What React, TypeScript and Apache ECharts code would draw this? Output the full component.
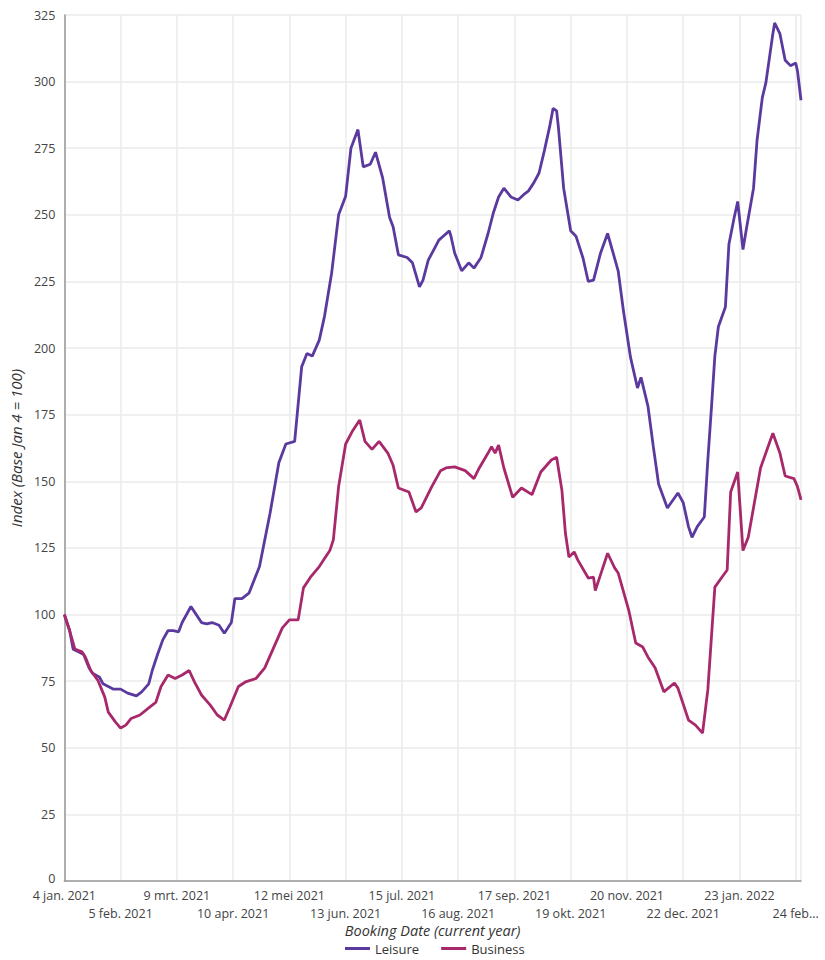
import React, { useEffect, useRef } from "react";
import * as echarts from "echarts";

const startDate = [2021, 0, 4];
const monthNames = ["jan.", "feb.", "mrt.", "apr.", "mei", "jun.", "jul.", "aug.", "sep.", "okt.", "nov.", "dec."];
const tickStep = 32;
const lastDay = 419;

const leisureDays = [0, 3, 5, 8, 11, 14, 16, 20, 22, 25, 28, 32, 36, 41, 44, 48, 50, 53, 56, 59, 62, 65, 67, 72, 74, 78, 81, 84, 88, 91, 95, 97, 101, 105, 111, 117, 122, 126, 131, 135, 138, 141, 145, 148, 152, 156, 160, 163, 167, 170, 174, 177, 181, 185, 187, 190, 195, 198, 202, 204, 207, 211, 213, 215, 219, 220, 222, 226, 230, 233, 237, 241, 244, 247, 250, 254, 258, 262, 264, 267, 270, 273, 276, 278, 280, 281, 284, 288, 291, 295, 298, 301, 305, 309, 315, 318, 322, 326, 328, 332, 335, 338, 343, 349, 352, 355, 357, 360, 364, 366, 368, 370, 372, 376, 378, 381, 383, 386, 388, 392, 394, 397, 399, 403, 404, 407, 410, 413, 416, 417, 419];
const leisureValues = [100, 94, 87, 86, 85, 80, 78, 76.5, 74, 73, 72, 72, 70.5, 69.5, 71, 74, 79, 85, 90.5, 94, 94, 93.5, 97, 103, 101, 97, 96.5, 97, 96, 93, 97, 106, 106, 108, 118, 138, 157, 164, 165, 193, 198, 197, 203, 212, 228, 250, 257, 275, 282, 268, 269, 273.5, 264, 249, 245.5, 235, 234, 232, 223, 225.5, 233, 238, 240.5, 241.7, 244, 241.7, 235.7, 229, 232, 230, 234, 243, 250.7, 256.7, 260, 256.7, 255.6, 258, 259, 262, 265.7, 274, 283, 290, 289, 283, 260, 244, 242, 233.8, 225, 225.5, 235.7, 243, 229, 214, 196.6, 185, 189, 178, 163, 149, 140, 145.6, 142, 133, 129, 133, 136.6, 158, 177, 197, 208, 215.4, 239, 249, 255, 237, 245, 260, 278, 294, 299.5, 318, 322, 318, 308, 306, 307, 304, 293];

const businessDays = [0, 3, 6, 10, 12, 15, 19, 23, 25, 29, 32, 35, 38, 43, 48, 52, 55, 59, 63, 67, 71, 74, 78, 83, 87, 91, 94, 99, 103, 109, 114, 120, 124, 128, 133, 136, 140, 145, 151, 153, 156, 160, 164, 168, 171, 175, 179, 184, 187, 190, 196, 200, 203, 209, 214, 217, 222, 228, 233, 236, 241, 243, 245, 247, 250, 255, 260, 266, 271, 277, 280, 283, 285, 287, 290, 292, 298, 301, 302, 305, 309, 313, 315, 321, 325, 329, 332, 336, 341, 347, 349, 355, 359, 363, 366, 370, 374, 377, 379, 383, 386, 389, 396, 400, 403, 407, 410, 415, 417, 419];
const businessValues = [100, 94, 87, 86, 84, 79, 75.4, 69, 63.4, 59.7, 57.4, 58.5, 61, 62.3, 65, 67, 73, 77.3, 76, 77.3, 79, 74.7, 69.8, 66, 62.3, 60.4, 65, 73, 74.7, 76, 80, 89, 95, 98, 98, 110, 114, 118, 124, 128, 148, 164, 169, 173, 165, 162, 165, 160.6, 156, 147.5, 146, 138.5, 140, 148, 154, 155, 155.4, 154, 151, 155, 160.6, 163, 160.6, 163.6, 155, 144, 147.5, 145, 153.5, 158, 159, 146.7, 130.6, 121.6, 123.5, 120.5, 113.7, 114, 109, 115, 123, 117.5, 115.6, 101.7, 89.3, 87.8, 84, 80, 71, 74.3, 72.4, 60.4, 58.5, 55.5, 71.7, 110.3, 114, 116.7, 146, 153.5, 124, 129, 155, 162.5, 168, 160.6, 152, 151, 148, 143];

const yMax = 325;
const yStep = 25;

const fontFamily = "'Open Sans', Lato, sans-serif";

function dayLabel(value: number): string {
  const d = new Date(Date.UTC(startDate[0], startDate[1], startDate[2] + value));
  return `${d.getUTCDate()} ${monthNames[d.getUTCMonth()]} ${d.getUTCFullYear()}`;
}

export default function App() {
  const ref = useRef<HTMLDivElement>(null);
  useEffect(() => {
    if (!ref.current) return;
    const chart = echarts.init(ref.current, null, { renderer: "svg" });
    const lastTick = Math.floor(lastDay / tickStep) * tickStep;
    const rowFormatter = (row: number) => (value: number) => {
      if (value % tickStep !== 0) return "";
      if ((value / tickStep) % 2 !== row) return "";
      let label = dayLabel(value);
      if (value === lastTick) label = label.slice(0, label.indexOf(".")) + "...";
      return label;
    };
    const baseLabel = {
      showMaxLabel: false,
      hideOverlap: false,
      fontFamily,
      fontSize: 12.5,
      lineHeight: 13,
      color: "#444",
    };
    chart.setOption({
      animation: false,
      textStyle: { fontFamily },
      grid: { left: 61, right: 24, top: 15, bottom: 79, containLabel: false },
      legend: {
        bottom: 0,
        left: 340,
        icon: "rect",
        itemWidth: 25,
        itemHeight: 3,
        itemGap: 22,
        textStyle: { fontFamily, fontSize: 13, color: "#333" },
        data: ["Leisure", "Business"],
      },
      xAxis: [
        {
          type: "value",
          min: 0,
          max: lastDay,
          interval: tickStep,
          name: "Booking Date (current year)",
          nameLocation: "middle",
          nameGap: 42,
          nameTextStyle: { fontFamily, fontStyle: "italic", fontSize: 14.5, color: "#333" },
          axisLine: { show: true, lineStyle: { color: "#999", width: 1.5 } },
          axisTick: { show: false },
          splitLine: { show: true, lineStyle: { color: "#ebebeb", width: 1.5 } },
          axisLabel: { ...baseLabel, margin: 8, formatter: rowFormatter(0) },
        },
        {
          type: "value",
          position: "bottom",
          min: 0,
          max: lastDay,
          interval: tickStep,
          axisLine: { show: false },
          axisTick: { show: false },
          splitLine: { show: false },
          axisLabel: { ...baseLabel, margin: 26, formatter: rowFormatter(1) },
        },
      ],
      yAxis: {
        type: "value",
        min: 0,
        max: yMax,
        interval: yStep,
        name: "Index (Base Jan 4 = 100)",
        nameLocation: "middle",
        nameGap: 40,
        nameTextStyle: { fontFamily, fontStyle: "italic", fontSize: 15, color: "#333" },
        axisLine: { show: true, lineStyle: { color: "#999", width: 1.5 } },
        axisTick: { show: false },
        splitLine: { show: true, lineStyle: { color: "#ebebeb", width: 1.5 } },
        axisLabel: {
          fontFamily,
          fontSize: 12.5,
          lineHeight: 12,
          color: "#444",
          margin: 9,
          formatter: (value: number) => (value === 0 ? "{zero|0}" : String(value)),
          rich: {
            zero: { fontFamily, fontSize: 12.5, lineHeight: 10, color: "#444", padding: [0, 0, 6, 0] },
          },
        },
      },
      series: [
        {
          name: "Leisure",
          type: "line",
          xAxisIndex: 0,
          showSymbol: false,
          symbol: "none",
          color: "#5a3a9f",
          lineStyle: { width: 2.8, color: "#5a3a9f" },
          data: leisureDays.map((d, i) => [d, leisureValues[i]]),
        },
        {
          name: "Business",
          type: "line",
          xAxisIndex: 0,
          showSymbol: false,
          symbol: "none",
          color: "#a8296b",
          lineStyle: { width: 2.8, color: "#a8296b" },
          data: businessDays.map((d, i) => [d, businessValues[i]]),
        },
      ],
    });
    return () => chart.dispose();
  }, []);
  return <div ref={ref} style={{ width: 825, height: 960, position: "absolute", left: 0, top: 0 }} />;
}
